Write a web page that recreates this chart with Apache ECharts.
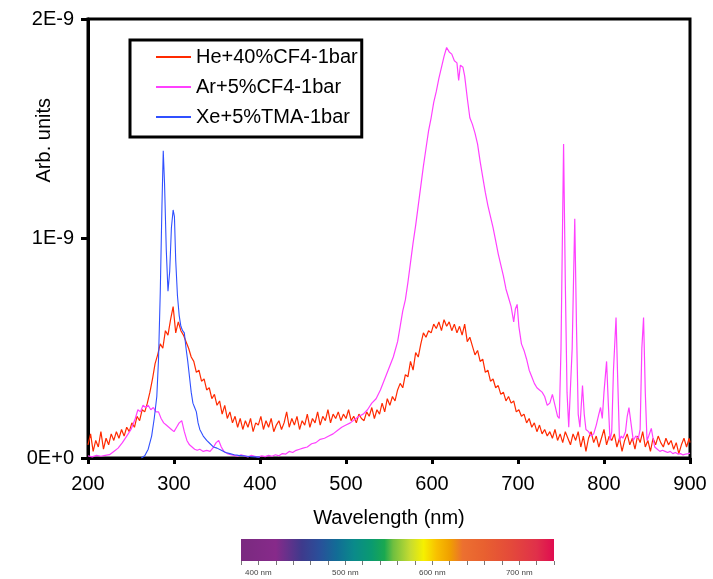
<!DOCTYPE html>
<html>
<head>
<meta charset="utf-8">
<script src="https://cdn.jsdelivr.net/npm/echarts@6/dist/echarts.min.js"></script>
<style>
html,body{margin:0;padding:0;background:#fff;}
#chart{width:713px;height:579px;}
</style>
</head>
<body>
<div id="chart"></div>
<script>
// Wavelength (nm), intensity in units of 1E-9
const seriesNames = ['He+40%CF4-1bar', 'Ar+5%CF4-1bar', 'Xe+5%TMA-1bar'];
const yTickLabels = ['0E+0', '1E-9', '2E-9'];
const xTicks = [200, 300, 400, 500, 600, 700, 800, 900];

const heCF4 = [
[200,0.06],[203,0.11],[206,0.03],[209,0.08],[212,0.05],[215,0.12],[218,0.04],[221,0.09],[224,0.06],[227,0.11],
[230,0.08],[233,0.12],[236,0.09],[239,0.13],[242,0.10],[245,0.14],[248,0.12],[251,0.16],[254,0.14],[257,0.19],
[260,0.17],[263,0.22],[266,0.21],[269,0.25],[272,0.30],[275,0.36],[278,0.43],[281,0.47],[284,0.52],[287,0.50],
[290,0.58],[293,0.56],[296,0.63],[299,0.69],[302,0.57],[305,0.62],[308,0.58],[311,0.56],[314,0.53],[317,0.50],
[320,0.46],[323,0.44],[326,0.39],[329,0.40],[332,0.35],[335,0.36],[338,0.31],[341,0.32],[344,0.27],[347,0.29],
[350,0.24],[353,0.26],[356,0.20],[359,0.24],[362,0.18],[365,0.21],[368,0.16],[371,0.19],[374,0.14],[377,0.18],
[380,0.13],[383,0.17],[386,0.14],[389,0.18],[392,0.12],[395,0.16],[398,0.15],[401,0.19],[404,0.13],[407,0.17],
[410,0.14],[413,0.18],[416,0.12],[419,0.15],[422,0.17],[425,0.13],[428,0.16],[431,0.21],[434,0.14],[437,0.18],
[440,0.15],[443,0.19],[446,0.13],[449,0.17],[452,0.15],[455,0.20],[458,0.14],[461,0.18],[464,0.16],[467,0.21],
[470,0.15],[473,0.19],[476,0.17],[479,0.22],[482,0.16],[485,0.20],[488,0.18],[491,0.21],[494,0.17],[497,0.20],
[500,0.18],[503,0.22],[506,0.17],[509,0.19],[512,0.16],[515,0.20],[518,0.18],[521,0.17],[524,0.21],[527,0.19],
[530,0.23],[533,0.18],[536,0.22],[539,0.20],[542,0.25],[545,0.21],[548,0.27],[551,0.24],[554,0.28],[557,0.26],
[560,0.31],[563,0.34],[566,0.32],[569,0.38],[572,0.37],[575,0.44],[578,0.40],[581,0.48],[584,0.46],[587,0.52],
[590,0.57],[593,0.55],[596,0.58],[599,0.57],[602,0.61],[605,0.59],[608,0.62],[611,0.58],[614,0.63],[617,0.60],
[620,0.62],[623,0.58],[626,0.61],[629,0.57],[632,0.60],[635,0.56],[638,0.61],[641,0.53],[644,0.55],[647,0.51],
[650,0.47],[653,0.49],[656,0.44],[659,0.45],[662,0.39],[665,0.40],[668,0.35],[671,0.36],[674,0.32],[677,0.33],
[680,0.29],[683,0.30],[686,0.26],[689,0.28],[692,0.25],[695,0.26],[698,0.21],[701,0.22],[704,0.19],[707,0.20],
[710,0.16],[713,0.18],[716,0.14],[719,0.16],[722,0.12],[725,0.15],[728,0.11],[731,0.13],[734,0.10],[737,0.12],
[740,0.09],[743,0.13],[746,0.08],[749,0.11],[752,0.07],[755,0.12],[758,0.09],[761,0.06],[764,0.11],[767,0.08],
[770,0.12],[773,0.05],[776,0.10],[779,0.03],[782,0.09],[785,0.12],[788,0.07],[791,0.10],[794,0.05],[797,0.09],
[800,0.13],[803,0.06],[806,0.10],[809,0.08],[812,0.11],[815,0.05],[818,0.09],[821,0.03],[824,0.08],[827,0.11],
[830,0.06],[833,0.09],[836,0.04],[839,0.10],[842,0.07],[845,0.12],[848,0.05],[851,0.08],[854,0.03],[857,0.09],
[860,0.06],[863,0.10],[866,0.07],[869,0.05],[872,0.09],[875,0.06],[878,0.08],[881,0.04],[884,0.07],[887,0.02],
[890,0.06],[893,0.09],[896,0.05],[899,0.09],[900,0.07]
];

const arCF4 = [
[200,0.010],[205,0.005],[210,0.012],[215,0.008],[220,0.012],[225,0.015],[230,0.03],[235,0.045],[240,0.07],[245,0.10],
[250,0.13],[255,0.18],[258,0.22],[261,0.21],[264,0.24],[267,0.23],[270,0.24],[273,0.22],[276,0.23],[279,0.21],
[282,0.21],[285,0.18],[288,0.16],[291,0.15],[294,0.14],[297,0.13],[300,0.12],[303,0.14],[306,0.16],[309,0.17],
[312,0.12],[315,0.08],[318,0.06],[321,0.05],[324,0.04],[327,0.035],[330,0.04],[334,0.03],[338,0.035],[342,0.03],
[346,0.05],[349,0.07],[352,0.08],[355,0.05],[358,0.03],[362,0.02],[366,0.015],[370,0.012],[374,0.008],[378,0.015],
[382,0.010],[386,0.005],[390,0.012],[394,0.008],[398,0.004],[402,0.010],[406,0.006],[410,0.012],[414,0.008],[418,0.015],
[422,0.010],[426,0.020],[430,0.018],[434,0.030],[438,0.025],[442,0.035],[446,0.040],[450,0.045],[455,0.050],[460,0.065],
[465,0.070],[470,0.085],[475,0.090],[480,0.100],[485,0.110],[490,0.125],[495,0.140],[500,0.150],[505,0.160],[510,0.175],
[515,0.19],[520,0.20],[525,0.22],[530,0.25],[535,0.27],[540,0.31],[545,0.36],[550,0.41],[555,0.46],[560,0.53],
[563,0.60],[566,0.67],[569,0.72],[572,0.80],[575,0.89],[578,0.98],[581,1.06],[584,1.15],[587,1.24],[590,1.33],
[593,1.41],[596,1.49],[599,1.55],[602,1.62],[605,1.67],[608,1.73],[611,1.78],[614,1.83],[617,1.87],[620,1.85],
[623,1.84],[626,1.81],[629,1.80],[631,1.72],[633,1.79],[636,1.78],[638,1.74],[641,1.64],[644,1.55],[647,1.52],
[650,1.48],[653,1.43],[656,1.35],[659,1.28],[662,1.21],[665,1.15],[668,1.10],[671,1.05],[674,0.99],[677,0.93],
[680,0.88],[683,0.83],[686,0.77],[689,0.73],[692,0.69],[695,0.62],[697,0.68],[699,0.70],[701,0.60],[704,0.52],
[707,0.49],[710,0.45],[713,0.40],[716,0.37],[719,0.34],[722,0.32],[725,0.31],[728,0.30],[731,0.28],[734,0.24],
[737,0.25],[740,0.29],[743,0.24],[746,0.19],[748,0.18],[750,0.50],[753,1.43],[755,0.80],[757,0.30],[759,0.14],
[761,0.14],[763,0.50],[766,1.09],[768,0.60],[770,0.20],[772,0.14],[775,0.33],[777,0.20],[779,0.13],[782,0.12],
[785,0.10],[788,0.11],[791,0.15],[794,0.20],[796,0.23],[798,0.18],[800,0.30],[803,0.44],[805,0.25],[807,0.08],
[809,0.12],[811,0.40],[814,0.64],[816,0.35],[818,0.08],[820,0.10],[822,0.09],[825,0.12],[827,0.19],[829,0.23],
[831,0.17],[834,0.08],[837,0.10],[840,0.09],[842,0.13],[844,0.50],[846,0.64],[848,0.30],[850,0.08],[852,0.10],
[855,0.135],[857,0.09],[859,0.05],[862,0.04],[865,0.03],[868,0.035],[871,0.03],[874,0.025],[877,0.03],[880,0.02],
[883,0.025],[886,0.018],[889,0.02],[892,0.014],[895,0.018],[898,0.02],[900,0.022]
];

const xeTMA = [
[262,0.0],[266,0.01],[270,0.04],[274,0.10],[277,0.18],[280,0.28],[282,0.45],[284,0.75],[286,1.15],[287.5,1.40],
[289,1.25],[291,0.95],[293,0.76],[295,0.85],[297,1.05],[299,1.13],[300.5,1.10],[302,0.90],[304,0.74],[306,0.65],
[308,0.60],[310,0.58],[312,0.57],[314,0.50],[316,0.44],[318,0.37],[320,0.30],[322,0.25],[324,0.23],[326,0.21],
[328,0.16],[330,0.13],[334,0.10],[338,0.08],[342,0.065],[346,0.05],[350,0.045],[355,0.035],[360,0.025],[365,0.02],
[370,0.015],[375,0.012],[380,0.01],[385,0.008],[390,0.006],[395,0.005],[400,0.004]
];

// Visible spectrum colour bar
const specRange = [380, 740];
const specNm = [380, 420, 450, 470, 490, 510, 530, 545, 555, 575, 590, 605, 620, 635, 660, 690, 720, 740];
const specColor = ['#7a2a80', '#872a8a', '#3e3a8c', '#2a4f9a', '#126c96', '#0a8a8a', '#0a9a70', '#1aa850',
                   '#6fbf40', '#c8dc30', '#f6f000', '#f8c000', '#f0a000', '#ec7030', '#e86030', '#e44a3a', '#e0304a', '#e00c50'];
const specTickLabels = [400, 500, 600, 700];

const FONT = "'Liberation Sans', Arial, sans-serif";
const FS = 20;
const chart = echarts.init(document.getElementById('chart'), null, {renderer: 'canvas'});

const stops = specNm.map((nm, i) => ({offset: (nm - specRange[0]) / (specRange[1] - specRange[0]), color: specColor[i]}));

const option = {
  animation: false,
  backgroundColor: '#fff',
  textStyle: {fontFamily: FONT},
  grid: [
    {left: 88, right: 23, top: 19, bottom: 121, show: true, borderColor: '#000', borderWidth: 3, backgroundColor: 'transparent'},
    {left: 241, right: 159, top: 539, height: 22}
  ],
  legend: {
    orient: 'vertical', left: 130, top: 40,
    padding: [7, 4, 10, 26],
    borderColor: '#000', borderWidth: 3,
    itemWidth: 35, itemHeight: 2, itemGap: 10,
    icon: 'rect',
    data: seriesNames,
    textStyle: {fontSize: FS, color: '#000', fontFamily: FONT, padding: [0, 0, 0, 0]}
  },
  graphic: [{
    type: 'text', left: 34, top: 98, rotation: Math.PI / 2,
    style: {text: 'Arb. units', fill: '#000', font: FS + 'px ' + FONT}
  }],
  xAxis: [
    {
      type: 'value', gridIndex: 0, min: xTicks[0], max: xTicks[xTicks.length - 1], interval: 100,
      name: 'Wavelength (nm)', nameLocation: 'middle', nameGap: 50,
      nameTextStyle: {fontSize: FS, color: '#000', fontFamily: FONT},
      axisLine: {onZero: false, lineStyle: {color: '#000', width: 3}},
      axisTick: {length: 6, lineStyle: {color: '#000', width: 3}},
      axisLabel: {fontSize: FS, color: '#000', margin: 16, fontFamily: FONT},
      splitLine: {show: false}
    },
    {
      type: 'value', gridIndex: 1, min: specRange[0], max: specRange[1], interval: 20,
      axisLine: {show: false},
      axisTick: {length: 4, lineStyle: {color: '#777', width: 1}},
      axisLabel: {fontSize: 8, color: '#444', margin: 8, fontFamily: FONT,
        formatter: v => specTickLabels.includes(v) ? v + ' nm' : ''},
      splitLine: {show: false}
    }
  ],
  yAxis: [
    {
      type: 'value', gridIndex: 0, min: 0, max: 2, interval: 1,
      axisLine: {show: true, onZero: false, lineStyle: {color: '#000', width: 3}},
      axisTick: {show: true, length: 7, lineStyle: {color: '#000', width: 3}},
      axisLabel: {fontSize: FS, color: '#000', margin: 14, fontFamily: FONT,
        formatter: v => yTickLabels[Math.round(v)]},
      splitLine: {show: false}
    },
    {type: 'value', gridIndex: 1, min: 0, max: 1, show: false}
  ],
  series: [
    {name: seriesNames[0], type: 'line', data: heCF4, showSymbol: false, symbol: 'none',
      lineStyle: {color: '#ff2a00', width: 1.2}, itemStyle: {color: '#ff2a00'}},
    {name: seriesNames[1], type: 'line', data: arCF4, showSymbol: false, symbol: 'none',
      lineStyle: {color: '#ff40ff', width: 1.2}, itemStyle: {color: '#ff40ff'}},
    {name: seriesNames[2], type: 'line', data: xeTMA, showSymbol: false, symbol: 'none',
      lineStyle: {color: '#3050ff', width: 1.1}, itemStyle: {color: '#3050ff'}},
    {
      type: 'custom', xAxisIndex: 1, yAxisIndex: 1, silent: true,
      data: [[specRange[0], specRange[1]]],
      encode: {x: [0, 1]},
      renderItem: (params, api) => {
        const a = api.coord([api.value(0), 0]);
        const b = api.coord([api.value(1), 1]);
        return {
          type: 'rect',
          shape: {x: a[0], y: b[1], width: b[0] - a[0], height: a[1] - b[1]},
          style: {fill: new echarts.graphic.LinearGradient(0, 0, 1, 0, stops)}
        };
      }
    }
  ]
};
chart.setOption(option);
</script>
</body>
</html>
